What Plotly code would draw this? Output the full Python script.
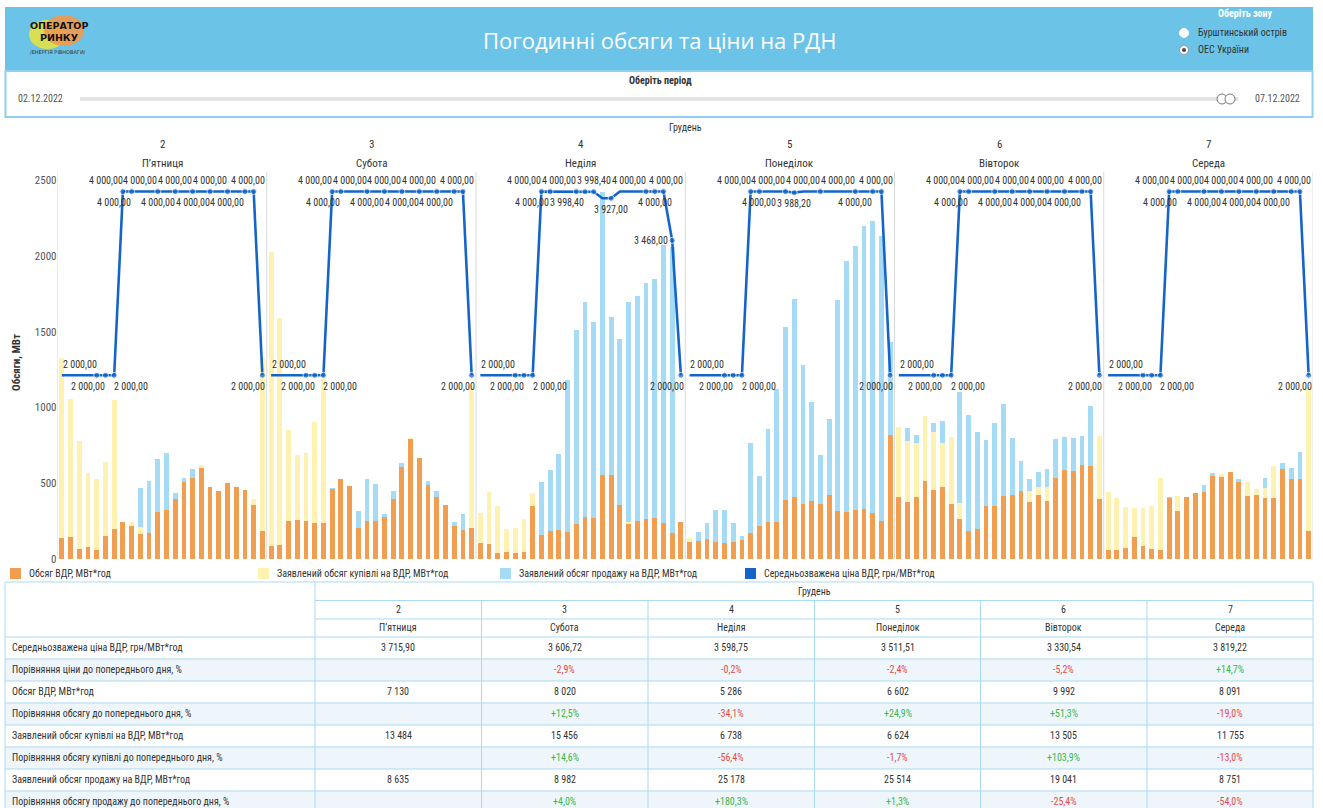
import plotly.graph_objects as go

W, H = 1323, 808
K = 1.0087  # page-to-screen vertical compensation
FONT = "Liberation Sans Narrow, Roboto Condensed, Arial Narrow, Roboto, sans-serif"

# ---------------- data ----------------
month = "Грудень"
days = ["2", "3", "4", "5", "6", "7"]
weekdays = ["П’ятниця", "Субота", "Неділя", "Понеділок", "Вівторок", "Середа"]
hours = list(range(1, 25))
volume_ticks = [0, 500, 1000, 1500, 2000, 2500]

# Обсяг ВДР, МВт*год (hourly, per day)
volume = [
    [136, 147, 66, 77, 59, 154, 200, 242, 220, 165, 169, 313, 324, 396, 511, 533, 603, 473, 451, 504, 478, 456, 357, 185],
    [86, 90, 251, 258, 253, 240, 240, 460, 526, 482, 202, 251, 251, 275, 396, 610, 790, 665, 489, 412, 357, 218, 192, 202],
    [103, 99, 42, 48, 42, 48, 350, 156, 185, 192, 180, 233, 280, 269, 555, 555, 357, 231, 251, 262, 269, 240, 174, 242],
    [110, 119, 130, 112, 103, 112, 125, 170, 218, 247, 247, 390, 412, 361, 383, 361, 423, 317, 313, 324, 330, 302, 251, 819],
    [412, 374, 412, 515, 456, 478, 361, 262, 185, 196, 350, 350, 416, 423, 449, 374, 423, 385, 533, 588, 581, 621, 616, 394],
    [59, 59, 70, 147, 88, 64, 59, 405, 317, 407, 434, 445, 550, 544, 577, 511, 416, 423, 405, 405, 592, 528, 528, 185],
]
# Заявлений обсяг купівлі на ВДР, МВт*год
buy = [
    [1330, 1054, 779, 566, 528, 638, 1050, 242, 246, 209, 169, 313, 324, 396, 511, 533, 621, 473, 451, 504, 478, 456, 396, 1335],
    [2030, 1594, 852, 687, 702, 905, 1195, 460, 526, 482, 202, 251, 251, 275, 396, 610, 799, 665, 489, 412, 357, 218, 192, 1150],
    [302, 445, 352, 196, 202, 262, 438, 156, 185, 192, 180, 233, 280, 269, 555, 555, 357, 247, 251, 262, 269, 240, 174, 242],
    [136, 119, 130, 112, 103, 112, 125, 170, 218, 247, 247, 390, 412, 361, 383, 361, 423, 317, 313, 324, 330, 302, 251, 819],
    [874, 779, 764, 944, 837, 768, 804, 372, 185, 196, 350, 350, 416, 423, 449, 449, 478, 478, 533, 588, 581, 621, 616, 815],
    [445, 401, 341, 335, 335, 350, 537, 405, 418, 407, 434, 445, 550, 559, 577, 511, 511, 460, 467, 614, 592, 528, 528, 1138],
]
# Заявлений обсяг продажу на ВДР, МВт*год
sell = [
    [136, 147, 66, 77, 59, 154, 200, 242, 220, 467, 515, 660, 698, 434, 533, 592, 603, 473, 451, 504, 478, 456, 357, 185],
    [86, 90, 251, 258, 253, 240, 240, 471, 526, 482, 319, 528, 495, 297, 449, 632, 790, 665, 517, 451, 357, 246, 297, 202],
    [103, 99, 42, 48, 42, 48, 350, 511, 588, 693, 1182, 1512, 1695, 1565, 2426, 1600, 1453, 1695, 1737, 1821, 1849, 2074, 2063, 242],
    [110, 176, 240, 324, 324, 240, 152, 768, 548, 856, 1121, 1534, 1717, 1281, 1039, 687, 922, 1710, 1968, 2067, 2199, 2234, 2133, 1435],
    [412, 867, 819, 515, 896, 914, 361, 1101, 951, 841, 786, 896, 1021, 797, 649, 526, 577, 592, 790, 808, 797, 812, 1010, 394],
    [59, 59, 70, 147, 88, 64, 59, 412, 317, 407, 434, 489, 570, 544, 577, 526, 416, 423, 537, 405, 636, 599, 709, 185],
]
# Середньозважена ціна ВДР, грн/МВт*год
price = [
    [2000] * 7 + [4000] * 16 + [2000],
    [2000] * 7 + [4000] * 16 + [2000],
    [2000] * 7 + [4000, 4000, 4000, 4000, 4000, 3998.40, 3998.40, 3927, 3927, 4000, 4000, 4000, 4000, 4000, 4000, 3468, 2000],
    [2000] * 7 + [4000, 4000, 4000, 4000, 4000, 3988.20, 4000, 4000, 4000, 4000, 4000, 4000, 4000, 4000, 4000, 4000, 2000],
    [2000] * 7 + [4000] * 16 + [2000],
    [2000] * 7 + [4000] * 16 + [2000],
]

# table
row_labels = [
    "Середньозважена ціна ВДР, грн/МВт*год",
    "Порівняння ціни до попереднього дня, %",
    "Обсяг ВДР, МВт*год",
    "Порівняння обсягу до попереднього дня, %",
    "Заявлений обсяг купівлі на ВДР, МВт*год",
    "Порівняння обсягу купівлі до попереднього дня, %",
    "Заявлений обсяг продажу на ВДР, МВт*год",
    "Порівняння обсягу продажу до попереднього дня, %",
]
avg_price = [3715.90, 3606.72, 3598.75, 3511.51, 3330.54, 3819.22]
price_chg = [None, -2.9, -0.2, -2.4, -5.2, 14.7]
vol_total = [7130, 8020, 5286, 6602, 9992, 8091]
vol_chg = [None, 12.5, -34.1, 24.9, 51.3, -19.0]
buy_total = [13484, 15456, 6738, 6624, 13505, 11755]
buy_chg = [None, 14.6, -56.4, -1.7, 103.9, -13.0]
sell_total = [8635, 8982, 25178, 25514, 19041, 8751]
sell_chg = [None, 4.0, 180.3, 1.3, -25.4, -54.0]

legend_names = ["Обсяг ВДР, МВт*год", "Заявлений обсяг купівлі на ВДР, МВт*год",
                "Заявлений обсяг продажу на ВДР, МВт*год", "Середньозважена ціна ВДР, грн/МВт*год"]
title = "Погодинні обсяги та ціни на РДН"
zones = ["Бурштинський острів", "ОЕС України"]
period = ["02.12.2022", "07.12.2022"]

# ---------------- styles ----------------
C_VOL = "#F19E50"
C_BUY = "#FFF1B0"
C_SELL = "#A6DBF5"
C_PRICE = "#1565C8"
C_HEAD = "#6BC3E8"
C_GRID = "#A9DAF2"
C_TXT = "#333333"
C_RED = "#E84A4A"
C_GREEN = "#3CB54A"

TOP = [(5, 't', -17), (8, 't', -17), (10, 't', 0), (14, 't', 0), (18, 't', 0), (22, 't', 3)]
LAB_STD = TOP + [(6, 'b', -17), (7, 'b', 17), (9, 'b', -18), (12, 'b', 0), (16, 'b', 0), (20, 'b', -1), (24, 'b', -14)]
LAB_SUN = TOP + [(6, 'b', -17), (7, 'b', 17), (9, 'b', -18), (13, 'b', -18), (16, 'b', 0), (21, 'b', 0), (24, 'b', -14), (23, 'l', -21)]
LAB_MON = TOP + [(6, 'b', -17), (7, 'b', 17), (9, 'b', 0), (13, 'b', 0), (20, 'b', 0), (24, 'b', -14)]
label_styles = [LAB_STD, LAB_STD, LAB_SUN, LAB_MON, LAB_STD, LAB_STD]
MK_STD = {5, 6, 7, 8, 9, 12, 14, 16, 18, 20, 22, 23, 24}
MK_SUN = {5, 6, 7, 8, 9, 12, 13, 14, 16, 20, 21, 22, 23, 24}
MK_MON = {5, 6, 7, 8, 9, 12, 13, 16, 20, 22, 23, 24}
marker_styles = [MK_STD, MK_STD, MK_SUN, MK_MON, MK_STD, MK_STD]


def px(x):
    return x / W


def py(y):
    return 1 - (y * K) / H


def fmt_num(v, dec=0):
    s = f"{v:,.{dec}f}"
    return s.replace(",", " ").replace(".", ",")


def fmt_pct(v):
    if v is None:
        return ""
    return f"{v:+.1f}%".replace(".", ",")


def text(x, y, t, size=10, color=C_TXT, anchor="center", family=FONT, **kw):
    d = dict(x=px(x), y=py(y), xref="paper", yref="paper", text=t, showarrow=False,
             xanchor=anchor, yanchor="middle", font=dict(size=size, color=color, family=family))
    d.update(kw)
    return d


fig = go.Figure()

X = [d * 24 + h for d in range(len(days)) for h in hours]


def flat(a):
    return [v for row in a for v in row]


for series, col in [(sell, C_SELL), (buy, C_BUY), (volume, C_VOL)]:
    fig.add_trace(go.Bar(x=X, y=flat(series), marker=dict(color=col, line=dict(width=0)),
                         width=0.55, showlegend=False, hoverinfo="skip"))

ann = []
shapes = []

for d in range(len(days)):
    xs = [d * 24 + h for h in hours]
    fig.add_trace(go.Scatter(
        x=xs, y=price[d], yaxis="y2", mode="lines+markers",
        line=dict(color=C_PRICE, width=2.6),
        marker=dict(color=C_PRICE, size=[6 if h in marker_styles[d] else 0 for h in hours]),
        showlegend=False, hoverinfo="skip"))
    for (h, side, dx) in label_styles[d]:
        v = price[d][h - 1]
        ysh = 11 if side == 't' else (-11 if side == 'b' else 0)
        ann.append(dict(x=d * 24 + h, y=v, xref="x", yref="y2", text=fmt_num(v, 2),
                        showarrow=False, xshift=dx, yshift=ysh, xanchor="center", yanchor="middle",
                        font=dict(size=10, color=C_TXT, family=FONT)))
    # day headers
    ann.append(dict(x=d * 24 + 12.5, y=py(145), xref="x", yref="paper", text=days[d], showarrow=False,
                    font=dict(size=11, color=C_TXT, family=FONT), xanchor="center", yanchor="middle"))
    ann.append(dict(x=d * 24 + 12.5, y=py(164), xref="x", yref="paper", text=weekdays[d], showarrow=False,
                    font=dict(size=11, color=C_TXT, family=FONT), xanchor="center", yanchor="middle"))

ann.append(dict(x=72.5, y=py(128), xref="x", yref="paper", text=month, showarrow=False,
                font=dict(size=10, color=C_TXT, family=FONT), xanchor="center", yanchor="middle"))
ann.append(text(17, 363, "<b>Обсяги, МВт</b>", size=11, textangle=-90))

# panel separators
for k in range(len(days) + 1):
    shapes.append(dict(type="line", xref="x", yref="paper", x0=0.5 + 24 * k, x1=0.5 + 24 * k,
                       y0=py(559), y1=py(172), line=dict(color="#DADADA", width=1), layer="below"))

# ---------------- header ----------------
shapes.append(dict(type="rect", xref="paper", yref="paper", x0=px(5), x1=px(1313), y0=py(71), y1=py(7),
                   fillcolor=C_HEAD, line=dict(width=0), layer="below"))
shapes.append(dict(type="rect", xref="paper", yref="paper", x0=px(5.5), x1=px(1312.5), y0=py(117), y1=py(71),
                   fillcolor="white", line=dict(color="#8FD0EE", width=2), layer="below"))
ann.append(text(660, 40, title, size=22, color="white", family="Open Sans, sans-serif"))
# logo
shapes.append(dict(type="circle", xref="paper", yref="paper", x0=px(29), x1=px(66), y0=py(49), y1=py(20),
                   fillcolor="#D7DF55", line=dict(width=0)))
shapes.append(dict(type="circle", xref="paper", yref="paper", x0=px(44), x1=px(84), y0=py(46), y1=py(15),
                   fillcolor="#EE9A4D", opacity=0.9, line=dict(width=0)))
ann.append(text(59, 26, "<b>ОПЕРАТОР</b>", size=9.5, color="#111", family="DejaVu Sans"))
ann.append(text(59, 38, "<b>РИНКУ</b>", size=9.5, color="#111", family="DejaVu Sans"))
ann.append(text(58, 52, "/ЕНЕРГІЯ РІВНОВАГИ/", size=5, color="#333", family="DejaVu Sans"))
# zone selector
ann.append(text(1245, 14, "<b>Оберіть зону</b>", color="white"))
for i, z in enumerate(zones):
    yy = 33 + 17 * i
    shapes.append(dict(type="circle", xref="paper", yref="paper", x0=px(1179.5), x1=px(1188.5),
                       y0=py(yy + 4.5), y1=py(yy - 4.5), fillcolor="white",
                       line=dict(color="#999" if i == 1 else "white", width=1)))
    if i == 1:
        shapes.append(dict(type="circle", xref="paper", yref="paper", x0=px(1182), x1=px(1186),
                           y0=py(yy + 2), y1=py(yy - 2), fillcolor="#444", line=dict(width=0)))
    ann.append(text(1196, yy, z, anchor="left"))
# period slider
ann.append(text(660, 81, "<b>Оберіть період</b>"))
ann.append(text(16, 99, period[0], color="#555", anchor="left"))
ann.append(text(1302, 99, period[1], color="#555", anchor="right"))
shapes.append(dict(type="line", xref="paper", yref="paper", x0=px(80), x1=px(1238), y0=py(99), y1=py(99),
                   line=dict(color="#E3E3E3", width=4)))
for cx in (1222, 1230):
    shapes.append(dict(type="circle", xref="paper", yref="paper", x0=px(cx - 5), x1=px(cx + 5),
                       y0=py(104), y1=py(94), fillcolor="white", line=dict(color="#777", width=1)))

# ---------------- legend ----------------
leg_x = [10, 258, 500, 745]
leg_c = [C_VOL, C_BUY, C_SELL, C_PRICE]
for lx, lc, ln in zip(leg_x, leg_c, legend_names):
    shapes.append(dict(type="rect", xref="paper", yref="paper", x0=px(lx), x1=px(lx + 11),
                       y0=py(579), y1=py(568), fillcolor=lc, line=dict(width=0)))
    ann.append(text(lx + 17, 573.5, ln, anchor="left"))

# ---------------- table ----------------
cols = [5, 315, 481.5, 648, 814.5, 980.5, 1147, 1313]
t_top, r1, r2, r3 = 582, 600.5, 619, 637
RH = 22
nrows = len(row_labels)
t_bot = r3 + RH * nrows
for i in range(nrows):
    if i % 2 == 1:
        shapes.append(dict(type="rect", xref="paper", yref="paper", x0=px(cols[0]), x1=px(cols[-1]),
                           y0=py(r3 + RH * (i + 1)), y1=py(r3 + RH * i), fillcolor="#EEF6FB",
                           line=dict(width=0), layer="below"))
GL = dict(color=C_GRID, width=1)
shapes.append(dict(type="rect", xref="paper", yref="paper", x0=px(cols[0]), x1=px(cols[-1]),
                   y0=py(t_bot), y1=py(t_top), line=GL))
for yv in (r1, r2):
    shapes.append(dict(type="line", xref="paper", yref="paper", x0=px(cols[1]), x1=px(cols[-1]),
                       y0=py(yv), y1=py(yv), line=GL))
for i in range(nrows):
    yv = r3 + RH * i
    shapes.append(dict(type="line", xref="paper", yref="paper", x0=px(cols[0]), x1=px(cols[-1]),
                       y0=py(yv), y1=py(yv), line=GL))
shapes.append(dict(type="line", xref="paper", yref="paper", x0=px(cols[1]), x1=px(cols[1]),
                   y0=py(t_top), y1=py(t_bot), line=GL))
for c in cols[2:-1]:
    shapes.append(dict(type="line", xref="paper", yref="paper", x0=px(c), x1=px(c),
                       y0=py(r1), y1=py(t_bot), line=GL))

ann.append(text((cols[1] + cols[-1]) / 2, (t_top + r1) / 2, month))
for j in range(len(days)):
    cx = (cols[j + 1] + cols[j + 2]) / 2
    ann.append(text(cx, (r1 + r2) / 2, days[j]))
    ann.append(text(cx, (r2 + r3) / 2, weekdays[j]))

table_rows = [
    [fmt_num(v, 2) for v in avg_price],
    [fmt_pct(v) for v in price_chg],
    [fmt_num(v) for v in vol_total],
    [fmt_pct(v) for v in vol_chg],
    [fmt_num(v) for v in buy_total],
    [fmt_pct(v) for v in buy_chg],
    [fmt_num(v) for v in sell_total],
    [fmt_pct(v) for v in sell_chg],
]
for i, lab in enumerate(row_labels):
    yc = r3 + RH * i + RH / 2
    ann.append(text(10, yc, lab, anchor="left"))
    raw = [price_chg, vol_chg, buy_chg, sell_chg][i // 2] if i % 2 == 1 else None
    for j, txt in enumerate(table_rows[i]):
        if not txt:
            continue
        col = C_TXT
        if raw is not None:
            col = C_GREEN if raw[j] > 0 else C_RED
        ann.append(text((cols[j + 1] + cols[j + 2]) / 2, yc, txt, color=col))

fig.update_layout(
    width=W, height=H, autosize=False,
    margin=dict(l=0, r=0, t=0, b=0),
    paper_bgcolor="white", plot_bgcolor="rgba(0,0,0,0)",
    barmode="overlay", bargap=0, showlegend=False,
    font=dict(family=FONT, color=C_TXT),
    xaxis=dict(domain=[px(57.5), px(1313)], range=[0.5, 144.5], visible=False, fixedrange=True),
    yaxis=dict(domain=[py(559), py(172)], range=[0, 2556], tickvals=volume_ticks,
               showgrid=False, zeroline=False, showline=False, ticks="",
               tickfont=dict(size=11, color="#555", family=FONT)),
    yaxis2=dict(overlaying="y", range=[0, 4213], visible=False),
    annotations=ann, shapes=shapes,
)

fig.write_html(
    "out.html",
    config={"displayModeBar": False, "staticPlot": True},
    post_script=(
        "var b=document.body,h=document.documentElement;"
        "b.style.margin='0px';b.style.padding='0px';b.style.overflow='hidden';"
        "h.style.overflow='hidden';"
    ),
)
